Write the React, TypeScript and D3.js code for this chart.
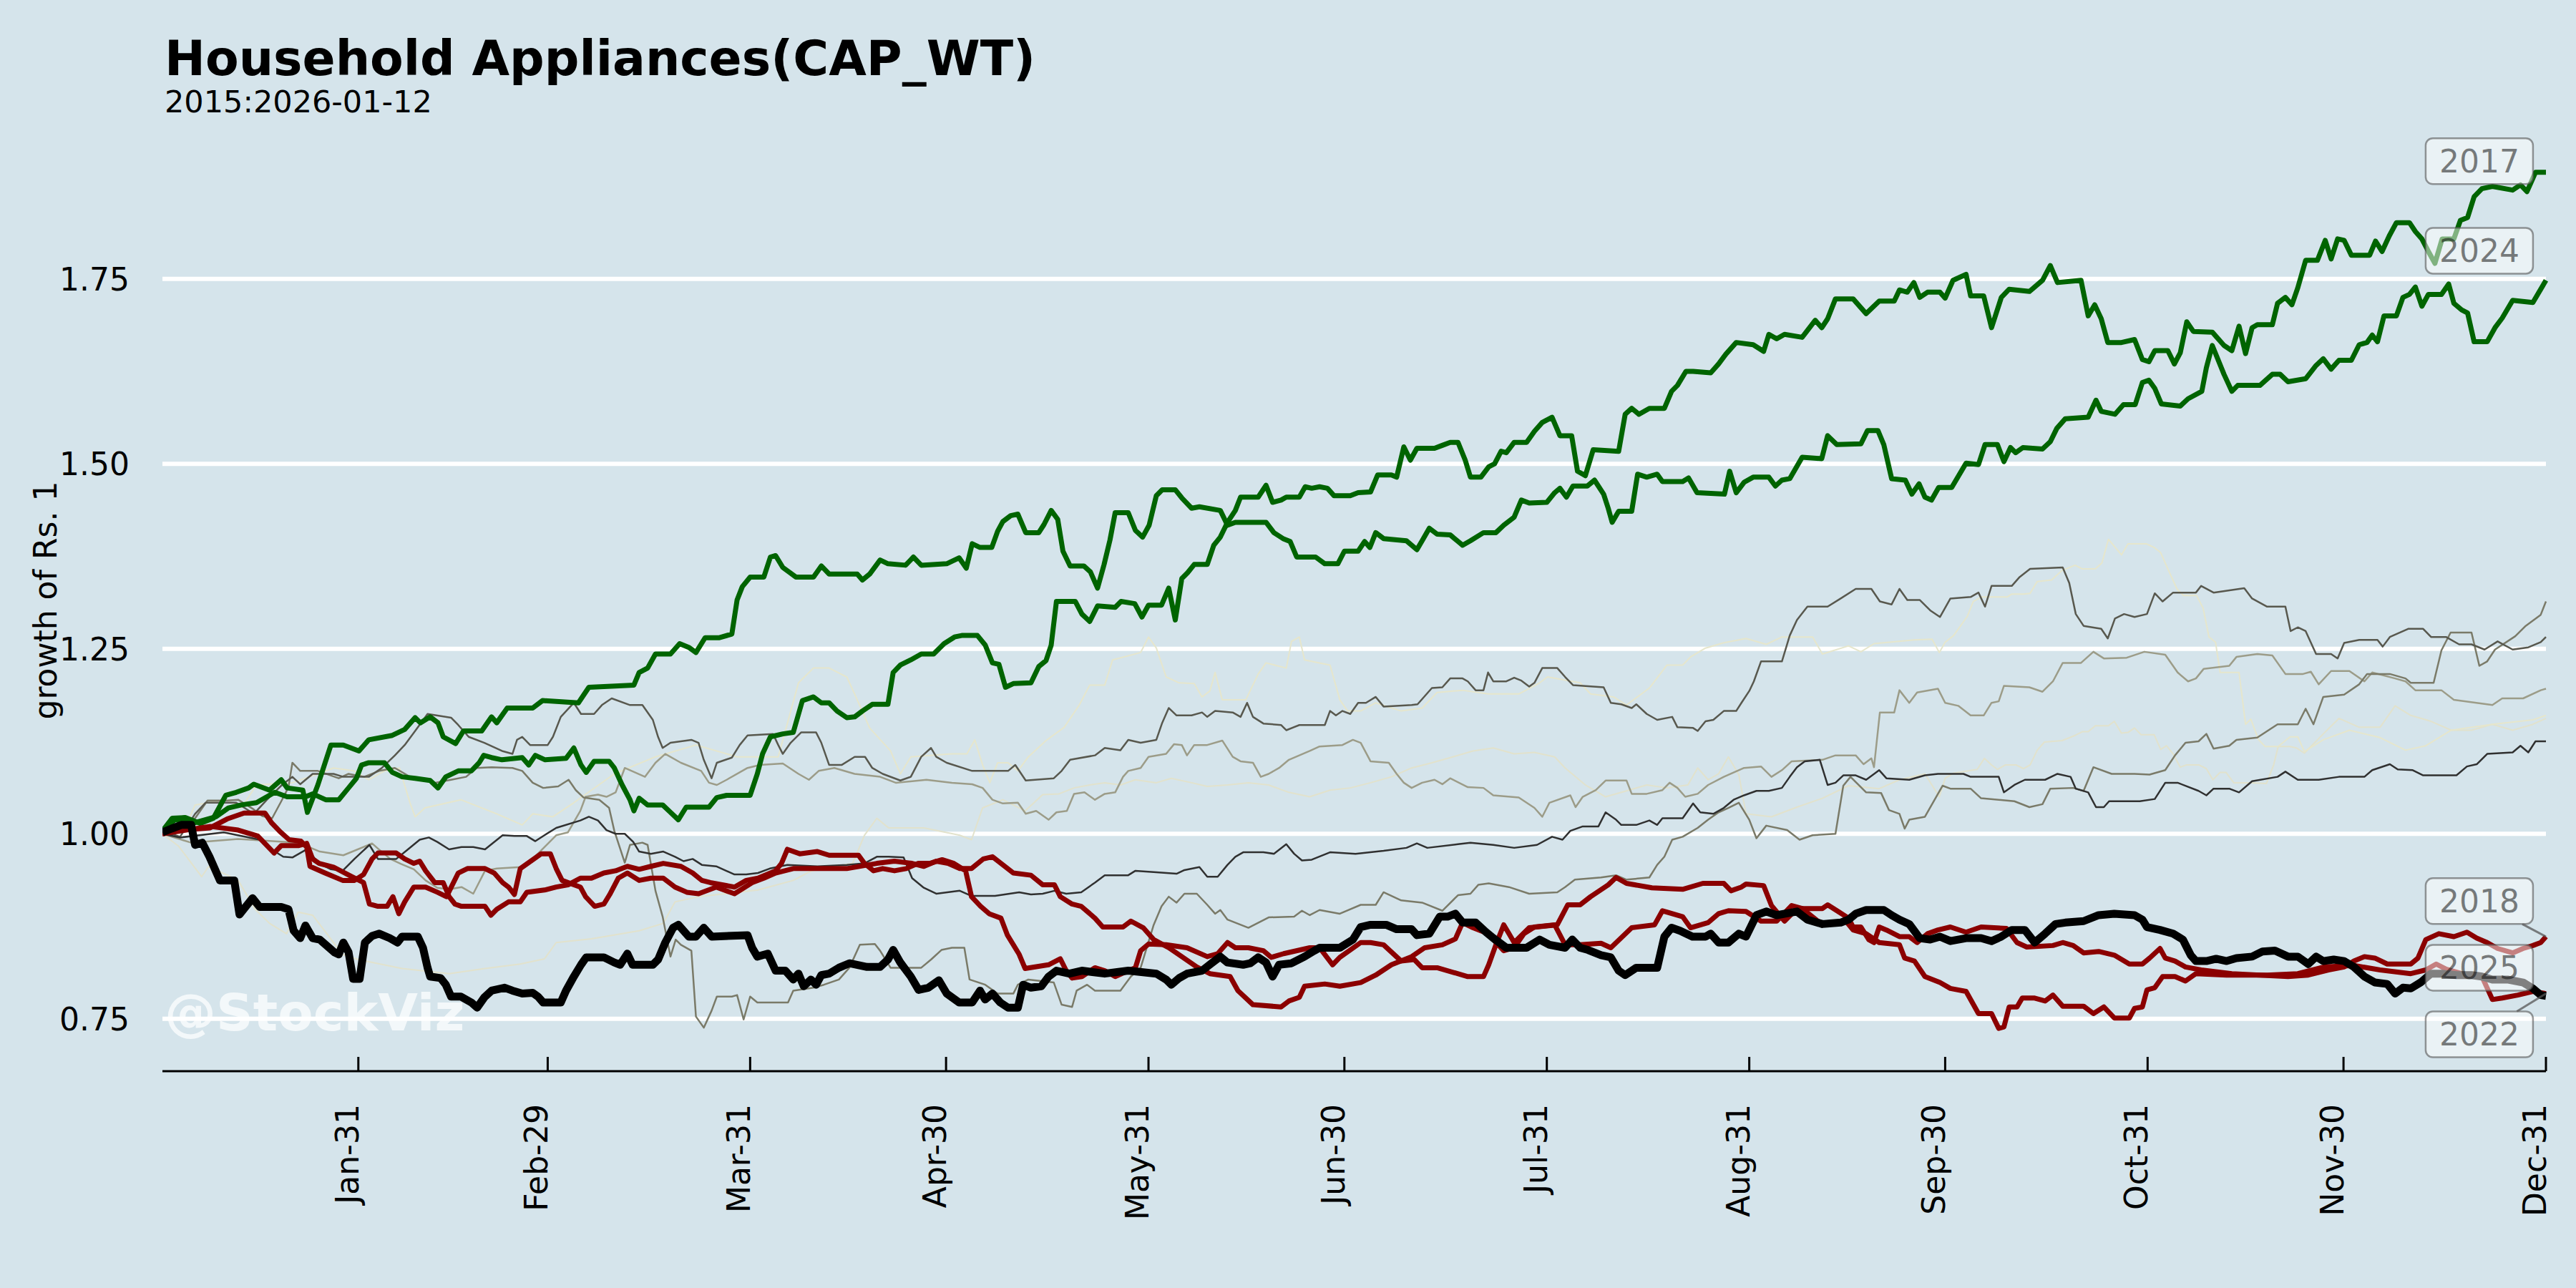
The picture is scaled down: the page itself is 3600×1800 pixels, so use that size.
import React from 'react';
import * as d3 from 'd3';

type Pt = [number, number]; // [day of year (0 = Jan-01), growth of Rs. 1]

const title = 'Household Appliances(CAP_WT)';
const subtitle = '2015:2026-01-12';
const yLabel = 'growth of Rs. 1';
const watermark = '@StockViz';
const yTicks = [0.75, 1.0, 1.25, 1.5, 1.75];
const monthEnds = ['2024-01-31', '2024-02-29', '2024-03-31', '2024-04-30', '2024-05-31', '2024-06-30',
  '2024-07-31', '2024-08-31', '2024-09-30', '2024-10-31', '2024-11-30', '2024-12-31'];

// ---- grey years ----
const s2015: Pt[] = [[0,1.0],[2.5,0.983],[6,0.942],[7.1,0.956],[11.6,0.937],[14.2,0.898],[16.4,0.879],[19,0.865],[20.8,0.894],[23,0.89],[27.6,0.837],[30,0.83],[36.7,0.818],[43.9,0.811],[49.4,0.818],[54.8,0.824],[58.5,0.831],[60.3,0.853],[65.7,0.858],[73,0.869],[76.7,0.879],[78.5,0.908],[82.1,0.915],[91.2,0.924],[96.6,0.937],[99.4,0.950],[105.7,0.960],[107.5,0.998],[109.4,1.021],[111.2,1.008],[116.6,1.008],[122.1,0.998],[123.9,0.992],[125.6,1.035],[128.7,1.046],[132.1,1.031],[134.8,1.053],[137.3,1.054],[139.6,1.062],[142,1.066],[144.3,1.069],[146.7,1.066],[149,1.073],[152.2,1.069],[154.5,1.075],[157.6,1.069],[160,1.064],[163.1,1.066],[166.3,1.069],[169.4,1.066],[172.5,1.056],[175.7,1.050],[178.8,1.059],[181.9,1.062],[185,1.069],[188.2,1.077],[191.3,1.089],[194.4,1.096],[197.6,1.104],[200.7,1.112],[203.8,1.116],[207,1.108],[210.1,1.110],[213.2,1.104],[214.8,1.089],[217.9,1.066],[221,1.050],[224.2,1.058],[227.3,1.066],[230.4,1.062],[233.6,1.066],[235.1,1.089],[236.7,1.073],[238.3,1.081],[239.8,1.104],[241.4,1.08],[242.5,1.027],[246.4,1.023],[250.3,1.036],[254.2,1.048],[258.2,1.065],[262.9,1.061],[266,1.073],[269.9,1.081],[272.1,1.05],[273,1.075],[274.3,1.082],[277.9,1.087],[279,1.102],[280.1,1.093],[281,1.087],[282.2,1.093],[283.9,1.093],[285,1.088],[286,1.093],[287.1,1.113],[288.2,1.124],[290.9,1.126],[292.9,1.133],[294,1.138],[294.9,1.138],[296,1.146],[298,1.146],[298.9,1.152],[300,1.136],[301,1.137],[302,1.143],[303,1.134],[305,1.134],[306,1.114],[306.9,1.119],[307.9,1.108],[309,1.090],[309.9,1.093],[311.9,1.093],[313,1.088],[314,1.073],[315.1,1.083],[316,1.083],[317.2,1.069],[320,1.069],[322.2,1.068],[323.3,1.093],[324,1.118],[325.8,1.118],[326.8,1.116],[328,1.109],[330.9,1.135],[333.3,1.156],[336.4,1.144],[339.6,1.144],[341.9,1.173],[344.3,1.160],[347.4,1.152],[350.5,1.140],[353.6,1.140],[356.8,1.148],[359.9,1.140],[363,1.148],[365,1.156]];

const s2016: Pt[] = [[0,1.004],[3.5,1.008],[5,1.039],[9.7,1.046],[12.1,1.035],[14.4,1.066],[19.9,1.069],[23.8,1.081],[26.2,1.089],[29.3,1.085],[31.6,1.073],[34,1.085],[36.3,1.089],[37.9,1.042],[38.7,1.023],[40.2,1.035],[45.7,1.046],[51.2,1.027],[55.1,1.012],[56.7,1.027],[59.8,1.023],[63,1.042],[69.2,1.081],[75.5,1.104],[81.7,1.120],[88,1.104],[94.3,1.104],[97.4,1.204],[99.7,1.224],[102.1,1.224],[104.8,1.212],[106,1.189],[108.3,1.143],[111.5,1.112],[113,1.081],[114.6,1.104],[120.9,1.108],[123.2,1.108],[124.4,1.127],[125.6,1.093],[126.7,1.069],[127.9,1.096],[129.5,1.096],[131,1.085],[132.6,1.104],[135.3,1.126],[138.1,1.144],[140.4,1.174],[142,1.201],[144.3,1.201],[145.5,1.235],[149.8,1.245],[151,1.266],[152.2,1.251],[153.7,1.212],[155.7,1.204],[158,1.203],[159.2,1.185],[160.4,1.193],[161.2,1.218],[162.3,1.181],[165.9,1.181],[167.8,1.216],[169,1.231],[172.1,1.224],[172.9,1.260],[174.1,1.266],[174.9,1.235],[178.8,1.228],[180.3,1.181],[181.5,1.166],[183.5,1.166],[185.8,1.177],[189.7,1.166],[192.9,1.170],[195.2,1.191],[199.1,1.194],[203,1.189],[207.7,1.189],[210.9,1.204],[212.1,1.212],[217.1,1.204],[218.7,1.189],[222.2,1.185],[224.2,1.174],[227.7,1.197],[230.4,1.228],[232.8,1.228],[234,1.239],[236.3,1.251],[239,1.258],[242.5,1.264],[245.6,1.256],[248,1.266],[252.7,1.266],[254.2,1.243],[258.2,1.254],[260.1,1.246],[262.1,1.257],[268.3,1.262],[271,1.263],[272.1,1.245],[273,1.259],[274.3,1.268],[276.4,1.294],[277.3,1.314],[278.5,1.32],[282.5,1.32],[283.2,1.324],[285,1.324],[286,1.325],[287.1,1.341],[289.3,1.343],[290.9,1.356],[292.9,1.363],[294,1.358],[296,1.358],[297,1.366],[298,1.398],[300,1.377],[301,1.392],[303.8,1.392],[305,1.387],[306,1.380],[307.2,1.356],[308.5,1.331],[309.5,1.322],[311.5,1.322],[312.5,1.305],[313.4,1.266],[314.4,1.259],[315.1,1.218],[318,1.218],[319,1.148],[319.8,1.155],[321,1.127],[322,1.118],[324,1.118],[325.8,1.131],[327,1.131],[328,1.111],[330.9,1.127],[334.9,1.140],[339.6,1.130],[343.5,1.113],[346.6,1.119],[350.5,1.140],[356.8,1.148],[363,1.154],[365,1.160]];

const s2019: Pt[] = [[0,1.0],[0.7,0.998],[4.4,0.988],[11.6,0.993],[20.8,0.988],[24.1,0.976],[27.7,0.971],[32.1,0.987],[33,0.980],[34.9,0.966],[36.6,0.959],[38.5,0.952],[40.3,0.937],[42.1,0.927],[43.9,0.925],[45.8,0.928],[47.6,0.919],[49.4,0.950],[51.2,0.953],[54.8,0.955],[56.7,0.966],[58.5,0.982],[60.3,0.998],[62.1,1.002],[64,1.031],[64.8,1.050],[66.7,1.053],[68,1.050],[69.4,1.056],[70.8,1.089],[73.9,1.077],[75.5,1.096],[77,1.108],[79.4,1.096],[82.5,1.085],[83.7,1.069],[84.9,1.066],[86.4,1.073],[89.6,1.089],[91.5,1.093],[95,1.095],[97.4,1.081],[99,1.073],[100.5,1.085],[102.9,1.089],[106,1.081],[109.9,1.077],[112.3,1.069],[117,1.073],[120.9,1.069],[124,1.067],[125.6,1.062],[127.1,1.046],[128.7,1.041],[131,1.042],[132.2,1.027],[133.8,1.031],[135.7,1.019],[136.9,1.029],[138.5,1.031],[139.6,1.054],[141.2,1.056],[142.8,1.046],[144.3,1.054],[145.9,1.056],[147.1,1.077],[147.9,1.085],[149.8,1.089],[151,1.104],[153.7,1.108],[154.9,1.121],[156.1,1.120],[156.9,1.106],[158,1.120],[160,1.120],[162.3,1.126],[163.9,1.104],[165.1,1.098],[167,1.096],[168.2,1.077],[169.4,1.081],[171,1.089],[172.5,1.100],[175.7,1.112],[177.2,1.118],[180.7,1.120],[182.3,1.127],[183.5,1.123],[185,1.098],[187.8,1.096],[189,1.081],[190.1,1.069],[191.3,1.062],[192.9,1.069],[194.8,1.073],[196,1.067],[197.2,1.075],[199.9,1.063],[202.3,1.062],[203.8,1.052],[207.7,1.049],[210.1,1.035],[211.3,1.023],[212.4,1.042],[215.6,1.052],[216.4,1.036],[217.5,1.050],[219.5,1.059],[221,1.072],[224.2,1.072],[225,1.054],[227.3,1.054],[229.7,1.059],[230.8,1.069],[232,1.062],[233.2,1.050],[235.1,1.054],[236.7,1.066],[239.1,1.077],[242.2,1.089],[244.8,1.091],[246.4,1.077],[248,1.086],[249.5,1.098],[254.2,1.100],[256.2,1.106],[259.3,1.106],[260.5,1.094],[261.7,1.102],[262.1,1.090],[263,1.164],[265.2,1.164],[266,1.194],[267.5,1.177],[268.7,1.191],[271.9,1.196],[273,1.177],[275,1.173],[276.9,1.160],[278.9,1.160],[280.1,1.177],[281.2,1.179],[282,1.200],[285.9,1.198],[287.9,1.192],[289.5,1.206],[291,1.231],[293.8,1.231],[295.7,1.246],[297.3,1.237],[300.8,1.238],[303.5,1.246],[306.7,1.242],[308.6,1.218],[310.2,1.206],[311.4,1.210],[312.6,1.223],[316.5,1.227],[317.6,1.239],[320.8,1.243],[323.1,1.241],[325.1,1.216],[327.8,1.216],[329,1.219],[330.2,1.202],[332.1,1.220],[334.9,1.220],[337.2,1.206],[338.4,1.218],[341.9,1.210],[343.5,1.206],[345,1.194],[349,1.194],[350.9,1.181],[356.8,1.174],[358.3,1.183],[361.5,1.183],[364.2,1.194],[365,1.196]];

const s2020: Pt[] = [[0,1.0],[5,1.021],[6.9,1.045],[9.9,1.045],[11.6,1.046],[13.8,1.034],[15.3,1.024],[16.8,1.021],[18.2,1.044],[19.3,1.063],[19.9,1.096],[21.1,1.085],[23.8,1.085],[27,1.075],[28.5,1.081],[30.9,1.077],[33.2,1.085],[35.6,1.089],[37.9,1.077],[41.8,1.069],[44.2,1.073],[46.5,1.077],[48.1,1.089],[50.4,1.090],[53.6,1.089],[55.1,1.085],[56.7,1.069],[58.3,1.062],[60.6,1.064],[62.2,1.073],[63.3,1.059],[64.5,1.049],[66.9,1.046],[68.4,1.035],[69.2,1.004],[70.8,0.961],[71.6,0.985],[73.5,0.988],[74.3,0.985],[75.5,0.923],[76.6,0.888],[77.8,0.834],[78.6,0.857],[79.4,0.850],[81,0.842],[81.7,0.753],[82.9,0.738],[84.1,0.761],[84.9,0.780],[87.2,0.780],[88,0.782],[89,0.749],[90,0.780],[91.1,0.772],[95.8,0.772],[96.6,0.788],[99.7,0.792],[101.3,0.796],[103.6,0.803],[105.2,0.819],[106.8,0.850],[109.1,0.851],[109.9,0.842],[111.5,0.819],[116.2,0.819],[117.7,0.830],[119.3,0.843],[120.9,0.846],[122.8,0.846],[123.6,0.803],[126,0.796],[127.9,0.784],[130.3,0.784],[131,0.796],[132.6,0.803],[136.5,0.799],[137.7,0.769],[139.3,0.766],[140,0.788],[141.6,0.796],[142.8,0.788],[146.7,0.788],[148.3,0.807],[149.8,0.819],[151.8,0.877],[153,0.902],[154.1,0.915],[155.3,0.907],[156.5,0.919],[158.4,0.919],[160,0.904],[161.2,0.892],[162,0.897],[163.1,0.884],[166.3,0.873],[169.4,0.887],[173.3,0.888],[174.5,0.896],[175.7,0.890],[177.2,0.897],[180.3,0.892],[183.5,0.904],[185.8,0.904],[187,0.921],[189.7,0.910],[192.9,0.907],[196,0.896],[198.4,0.917],[200.3,0.919],[201.5,0.931],[203.1,0.933],[206.2,0.928],[209.3,0.919],[213.6,0.921],[214.8,0.928],[216.3,0.938],[220.3,0.941],[222.6,0.944],[224.2,0.938],[227.7,0.941],[228.9,0.958],[230,0.969],[231.2,0.992],[232.8,0.996],[235.1,1.008],[236.7,1.019],[238.3,1.029],[239.8,1.035],[241.4,1.042],[243,1.019],[244.1,0.994],[245.6,1.011],[248.8,1.005],[250.7,0.992],[252.7,0.998],[256.2,1.0],[257.4,1.065],[258.5,1.077],[260.9,1.056],[263.2,1.055],[264.4,1.032],[266,1.027],[266.8,1.007],[267.5,1.019],[269.9,1.023],[272.6,1.065],[273.8,1.061],[276.9,1.061],[278.5,1.048],[283.6,1.044],[285.9,1.036],[287.9,1.040],[289.1,1.061],[292.6,1.062],[294.2,1.058],[295.7,1.090],[298.5,1.081],[302,1.081],[304.3,1.080],[306.7,1.086],[308.2,1.106],[309.8,1.123],[311.8,1.125],[313,1.135],[314.1,1.115],[316.5,1.119],[317.6,1.127],[320.8,1.130],[323.9,1.148],[327,1.148],[328.2,1.169],[329.4,1.148],[330.9,1.185],[334.1,1.188],[336.4,1.202],[337.6,1.216],[341.1,1.216],[343.5,1.210],[344.3,1.204],[347.8,1.204],[349,1.248],[350.4,1.272],[353.6,1.272],[354.8,1.227],[356,1.233],[357.2,1.249],[360.3,1.267],[361.9,1.281],[364.2,1.296],[365,1.314]];

const s2021: Pt[] = [[0,1.004],[2.7,0.996],[5,1.027],[6.6,1.042],[11.3,1.042],[14,1.027],[16,1.046],[18.3,1.066],[19.9,1.077],[21.1,1.067],[23,1.081],[26.2,1.081],[27.7,1.077],[31.6,1.077],[33.6,1.089],[35.6,1.106],[37.1,1.120],[38.7,1.139],[40.6,1.162],[44.2,1.157],[45.3,1.147],[46.9,1.131],[49.3,1.123],[52,1.112],[53.6,1.108],[54.3,1.127],[55.1,1.131],[56.3,1.120],[59,1.120],[59.8,1.131],[61,1.158],[63,1.177],[64.1,1.162],[66.1,1.162],[67.3,1.174],[68.8,1.183],[71.6,1.174],[73.5,1.174],[75.1,1.154],[75.9,1.131],[76.6,1.116],[77.8,1.123],[81,1.127],[82.1,1.123],[82.9,1.100],[84.1,1.075],[84.9,1.096],[87.2,1.103],[88.4,1.120],[89.6,1.133],[93.5,1.135],[94.3,1.120],[95,1.108],[96.2,1.123],[97.8,1.137],[100.1,1.137],[100.9,1.123],[102.1,1.093],[104,1.093],[106,1.104],[107.6,1.104],[108.7,1.089],[110.3,1.081],[113,1.072],[114.6,1.077],[116.2,1.104],[117.7,1.116],[118.5,1.104],[120.1,1.096],[124,1.085],[129.5,1.085],[130.6,1.093],[132.2,1.072],[136.5,1.075],[137.7,1.085],[139,1.100],[142.8,1.106],[144.3,1.116],[146.7,1.113],[147.9,1.127],[149.8,1.123],[152.2,1.127],[153.1,1.150],[154.1,1.170],[155.3,1.160],[157.6,1.160],[159.2,1.164],[160,1.158],[161.2,1.166],[163.9,1.164],[165.1,1.158],[166.1,1.177],[167,1.158],[168.6,1.149],[171.3,1.147],[172.1,1.140],[174.1,1.147],[178,1.147],[178.8,1.166],[179.7,1.160],[180.7,1.166],[181.9,1.162],[183.1,1.177],[184.3,1.177],[185.8,1.185],[187,1.172],[191.3,1.174],[192.2,1.175],[194.4,1.197],[196,1.198],[197.2,1.210],[199.1,1.210],[199.9,1.206],[201.1,1.194],[202.3,1.194],[203,1.218],[203.8,1.206],[205.8,1.206],[207,1.211],[208.1,1.207],[209.3,1.199],[210.1,1.204],[211.3,1.224],[213.6,1.224],[214.8,1.212],[216,1.201],[219.1,1.199],[220.7,1.198],[221.8,1.177],[223.4,1.175],[225,1.170],[225.7,1.175],[227.3,1.162],[228.9,1.154],[231.2,1.158],[232,1.144],[234.4,1.143],[235.1,1.139],[236.3,1.152],[237.5,1.154],[239.1,1.166],[241,1.166],[241.8,1.177],[243,1.193],[243.7,1.206],[244.8,1.233],[248,1.233],[249.2,1.268],[250.3,1.289],[251.9,1.307],[255,1.307],[257,1.318],[259.3,1.331],[261.7,1.331],[263,1.314],[264.8,1.310],[266,1.331],[267.2,1.316],[269.1,1.316],[270.7,1.302],[272.2,1.293],[273.8,1.318],[276.9,1.320],[278.1,1.326],[279.1,1.307],[280.1,1.335],[283.2,1.335],[284.4,1.347],[286,1.358],[291,1.360],[292,1.339],[293,1.297],[294.2,1.281],[296.9,1.277],[297.9,1.264],[299,1.291],[300.4,1.297],[302,1.293],[303.9,1.297],[305.1,1.325],[306.3,1.314],[307.9,1.326],[311.4,1.326],[312.2,1.335],[314.1,1.326],[318.8,1.332],[320,1.318],[322.3,1.307],[325.1,1.307],[325.9,1.274],[327,1.279],[328.2,1.274],[329.8,1.243],[332.1,1.243],[333.1,1.237],[334.1,1.258],[336.4,1.262],[339.2,1.262],[340,1.253],[341.1,1.266],[343.9,1.277],[346.2,1.277],[347.4,1.266],[349.7,1.266],[351.7,1.256],[353.6,1.256],[355.6,1.249],[357.6,1.260],[359.9,1.249],[362.3,1.252],[364.2,1.259],[365,1.266]];

const s2023: Pt[] = [[0,1.0],[2.7,0.995],[9.4,1.002],[14.9,0.992],[16.7,0.979],[18.5,0.969],[19.9,0.968],[22.1,0.979],[24,0.960],[25.8,0.952],[27.6,0.950],[29.4,0.966],[31.7,0.985],[33,0.966],[35.8,0.966],[37.6,0.979],[39.4,0.992],[40.8,0.995],[42.1,0.989],[43.9,0.979],[45.8,0.982],[47.6,0.982],[49.4,0.979],[52.1,0.998],[53.9,0.997],[55.8,0.997],[57.1,0.990],[58.5,0.998],[60.3,1.008],[64,1.018],[65.3,1.023],[66.7,1.018],[68,1.005],[69.4,1.0],[70.8,1.0],[72.1,0.989],[73,0.976],[74.8,0.973],[76.7,0.976],[78.5,0.969],[79.8,0.963],[81.2,0.966],[82.6,0.958],[84.8,0.956],[87.6,0.945],[89.4,0.945],[91.2,0.947],[93,0.953],[95.7,0.958],[100.3,0.956],[104.8,0.958],[107.5,0.960],[109.4,0.969],[111.2,0.969],[113.5,0.968],[114.8,0.940],[116.6,0.927],[118.5,0.919],[122.1,0.923],[123.9,0.916],[127.5,0.916],[131.2,0.921],[133,0.918],[134.8,0.919],[136.6,0.923],[138.4,0.919],[140.7,0.921],[142.8,0.934],[144.3,0.944],[147.9,0.944],[149,0.950],[152.2,0.948],[155.3,0.946],[156.5,0.951],[158.8,0.955],[160,0.942],[161.6,0.942],[163.1,0.958],[164.3,0.969],[165.5,0.975],[168.6,0.975],[170.2,0.973],[172.1,0.986],[173.3,0.973],[174.5,0.964],[176,0.965],[178.8,0.975],[182.7,0.973],[187,0.977],[190.5,0.981],[192.1,0.987],[193.7,0.981],[198.4,0.986],[200.3,0.988],[203.8,0.985],[207,0.981],[210.5,0.985],[212.8,0.996],[214.4,0.992],[215.6,1.004],[217.5,1.010],[219.9,1.010],[221,1.029],[222.6,1.019],[223.4,1.012],[225.7,1.012],[227.7,1.018],[228.9,1.012],[229.7,1.021],[232.8,1.021],[234.4,1.041],[235.5,1.029],[237.5,1.027],[239.1,1.035],[240.6,1.046],[242.2,1.052],[244.1,1.058],[246,1.058],[248,1.062],[249.2,1.077],[250.3,1.090],[251.5,1.098],[253.8,1.100],[255,1.066],[256.2,1.069],[257.4,1.079],[259.3,1.079],[260.9,1.073],[262.9,1.086],[264,1.075],[267.5,1.073],[269.9,1.079],[271.9,1.081],[275.8,1.081],[276.9,1.077],[281.2,1.077],[282,1.056],[283.6,1.066],[285.2,1.073],[288.3,1.073],[290.2,1.081],[292.2,1.077],[293,1.061],[294.9,1.056],[296.1,1.036],[297.3,1.036],[298.1,1.044],[302.8,1.044],[305.1,1.047],[306.7,1.069],[308.6,1.069],[311.8,1.058],[313,1.052],[314.1,1.061],[316.5,1.061],[318,1.056],[320,1.071],[323.9,1.077],[325.1,1.084],[327,1.073],[330.2,1.073],[333.3,1.077],[337.2,1.077],[338.4,1.086],[341.1,1.094],[342.3,1.087],[344.6,1.086],[346.2,1.079],[351.3,1.079],[352.9,1.091],[354.4,1.094],[356,1.108],[359.9,1.110],[361.1,1.119],[362.3,1.110],[363.4,1.125],[365,1.125]];

// ---- highlighted years ----
const s2017: Pt[] = [[0,1.004],[1.9,1.019],[5,1.015],[8.2,1.023],[10.1,1.035],[12.1,1.039],[14.4,1.042],[17.2,1.056],[19.1,1.050],[21.9,1.050],[23,1.054],[25,1.046],[27,1.046],[28.5,1.062],[29.7,1.075],[30.5,1.093],[31.6,1.096],[34,1.096],[35.2,1.083],[36.7,1.077],[38.7,1.075],[41,1.072],[42.2,1.062],[43.4,1.077],[45.3,1.085],[47.3,1.085],[48.5,1.096],[49.2,1.106],[50.4,1.103],[52,1.100],[55.1,1.103],[56.1,1.093],[57.1,1.106],[58.6,1.100],[61.8,1.102],[63,1.116],[64.1,1.093],[64.9,1.083],[66.1,1.098],[68.4,1.098],[69.2,1.089],[70.4,1.066],[71.6,1.046],[72.2,1.031],[73,1.048],[74.3,1.039],[76.6,1.039],[77.8,1.029],[79,1.019],[80.2,1.036],[83.7,1.036],[84.9,1.049],[86.4,1.052],[90,1.052],[91.1,1.081],[91.9,1.108],[93.1,1.131],[95,1.135],[96.6,1.137],[98,1.180],[99.7,1.185],[100.9,1.177],[102.1,1.177],[103.3,1.166],[104.8,1.157],[106,1.158],[107.2,1.166],[108.7,1.175],[111.1,1.175],[111.9,1.218],[113,1.228],[114.6,1.235],[116.2,1.243],[118.1,1.243],[119.7,1.257],[121.3,1.266],[122.4,1.268],[124.8,1.268],[126,1.255],[127.1,1.231],[128.1,1.229],[129.1,1.198],[130.3,1.203],[133,1.204],[134.2,1.226],[135.3,1.234],[136.1,1.255],[136.9,1.314],[139.8,1.314],[140.8,1.297],[142,1.287],[143.2,1.308],[145.9,1.306],[146.8,1.314],[148.9,1.311],[150,1.293],[151,1.309],[153,1.309],[154.1,1.332],[155.1,1.289],[156.1,1.345],[157,1.353],[158,1.364],[160,1.364],[161,1.390],[162,1.401],[163.1,1.421],[164.3,1.437],[165.1,1.455],[167.8,1.455],[169,1.471],[170,1.448],[171.3,1.451],[172.1,1.455],[174.1,1.455],[175,1.469],[176,1.467],[177.2,1.469],[178.4,1.467],[179.4,1.457],[181.9,1.457],[183.1,1.461],[185,1.462],[186.1,1.485],[188.2,1.485],[189,1.482],[190.1,1.523],[191.1,1.505],[192.1,1.521],[194.8,1.521],[196,1.525],[197.2,1.529],[198.4,1.529],[199.5,1.505],[200.3,1.482],[201.9,1.482],[203.1,1.496],[204,1.500],[205,1.517],[205.8,1.515],[207,1.529],[208.9,1.529],[210.1,1.544],[211.3,1.556],[212.8,1.563],[214,1.538],[215.8,1.538],[216.7,1.490],[217.9,1.484],[219.1,1.519],[223,1.517],[224,1.567],[225,1.575],[226.1,1.567],[227.7,1.575],[230,1.575],[231.1,1.598],[232,1.606],[233.3,1.625],[234.4,1.625],[237.1,1.623],[238.3,1.635],[239.4,1.648],[241,1.664],[243.6,1.661],[245.2,1.652],[246,1.675],[247.2,1.669],[248.4,1.675],[251.1,1.671],[253.1,1.694],[254.1,1.684],[255,1.696],[256.2,1.723],[258.9,1.723],[260.9,1.703],[262.9,1.720],[265.2,1.720],[266,1.735],[267.2,1.732],[268.2,1.745],[269.1,1.725],[270.3,1.732],[272.2,1.732],[273,1.724],[274.2,1.748],[276.2,1.756],[276.9,1.727],[278.9,1.727],[280.1,1.684],[281.6,1.725],[282.8,1.736],[285.9,1.733],[287.9,1.748],[289.1,1.768],[290.2,1.745],[293.8,1.748],[294.9,1.700],[295.9,1.715],[296.9,1.696],[297.9,1.664],[300,1.664],[302,1.668],[303.2,1.641],[304.2,1.638],[305.1,1.653],[307.1,1.653],[308.1,1.635],[309,1.650],[310,1.692],[311,1.679],[313.9,1.678],[315.7,1.660],[316.9,1.653],[318,1.686],[319,1.649],[320,1.684],[320.8,1.688],[323.1,1.688],[323.9,1.717],[325.1,1.725],[326.1,1.715],[327,1.738],[328.2,1.775],[330,1.775],[331.2,1.802],[332.1,1.777],[333.1,1.804],[334.1,1.802],[335.2,1.782],[338,1.782],[338.9,1.801],[339.9,1.787],[341,1.808],[342.1,1.826],[344.1,1.826],[345,1.814],[346,1.804],[347,1.787],[348,1.771],[349.1,1.804],[350.9,1.804],[351.9,1.829],[353,1.833],[354,1.861],[355.2,1.872],[356.8,1.875],[359.9,1.870],[361.1,1.877],[362.1,1.868],[363.4,1.894],[365,1.894]];

const s2024: Pt[] = [[0,1.004],[1.5,1.021],[3.5,1.022],[5.8,1.014],[7.8,1.021],[9.7,1.052],[11.3,1.056],[13.2,1.062],[14,1.067],[16.4,1.059],[18.2,1.073],[19.1,1.062],[21.5,1.059],[22.2,1.029],[23.8,1.066],[25.8,1.120],[27.7,1.120],[30.1,1.112],[31.6,1.127],[35.2,1.133],[37.1,1.141],[38.7,1.157],[39.5,1.150],[41,1.158],[42.2,1.150],[43,1.131],[44.9,1.122],[46.1,1.139],[48.9,1.139],[50.4,1.158],[51.2,1.150],[52.8,1.170],[56.7,1.170],[58.2,1.180],[63.7,1.177],[65.3,1.198],[72.2,1.201],[73,1.218],[74.3,1.224],[75.5,1.243],[77.8,1.243],[79.2,1.257],[80.6,1.252],[81.7,1.245],[83.1,1.265],[85.3,1.265],[87.2,1.270],[88,1.316],[88.8,1.334],[90,1.347],[92.1,1.347],[93.1,1.374],[93.9,1.376],[95,1.360],[97,1.347],[99.7,1.347],[100.9,1.362],[102.1,1.351],[106.4,1.351],[107.2,1.343],[108.3,1.351],[109.9,1.370],[111.1,1.365],[113.8,1.363],[115,1.374],[116.2,1.363],[120.1,1.365],[122,1.373],[123.1,1.359],[124,1.392],[125.2,1.387],[127,1.387],[127.9,1.409],[128.7,1.422],[129.9,1.430],[131,1.432],[132.2,1.407],[134.2,1.407],[135,1.418],[136.1,1.437],[137.1,1.425],[137.9,1.382],[139,1.362],[141.1,1.362],[142.1,1.354],[143.2,1.332],[144.2,1.364],[145.1,1.397],[145.9,1.434],[147.9,1.434],[149,1.410],[150.1,1.401],[151.1,1.417],[152.2,1.457],[153.1,1.465],[155.1,1.465],[156.1,1.454],[157.6,1.440],[158.8,1.442],[162,1.437],[163.1,1.417],[164.3,1.421],[169,1.421],[170.2,1.407],[171.6,1.399],[172.7,1.395],[173.7,1.374],[176.6,1.374],[178,1.365],[180,1.365],[181,1.382],[183.1,1.382],[184.1,1.395],[184.9,1.387],[185.8,1.407],[187,1.399],[190.5,1.396],[192.1,1.384],[192.9,1.396],[194,1.413],[195.2,1.405],[197.2,1.404],[199.1,1.390],[200.3,1.396],[202.3,1.407],[204.2,1.407],[205.4,1.417],[207,1.428],[208.1,1.451],[209.3,1.447],[212,1.448],[213.2,1.461],[214,1.467],[215,1.455],[216,1.470],[218.2,1.470],[219.3,1.478],[220.7,1.459],[221.4,1.440],[222,1.421],[223,1.436],[225,1.436],[225.9,1.486],[227.3,1.482],[228.9,1.486],[229.7,1.476],[232.8,1.476],[233.7,1.481],[235,1.461],[239.2,1.459],[240,1.490],[241,1.461],[242.2,1.475],[243.6,1.482],[246,1.482],[247,1.470],[248,1.478],[249.2,1.480],[251.1,1.509],[254.1,1.507],[255,1.538],[256.4,1.526],[260.1,1.527],[261.1,1.545],[262.7,1.545],[263.6,1.526],[264.8,1.480],[266.9,1.478],[267.9,1.459],[269,1.473],[269.9,1.455],[270.9,1.451],[272,1.468],[274,1.468],[276.2,1.501],[278.1,1.499],[279.1,1.526],[281,1.526],[282,1.503],[283,1.522],[283.8,1.515],[284.9,1.522],[287.9,1.520],[289.1,1.530],[290.1,1.548],[291.4,1.561],[294.9,1.563],[296.1,1.586],[296.9,1.571],[299,1.567],[300.3,1.580],[302.1,1.580],[303.2,1.610],[304.2,1.613],[305.1,1.602],[306.1,1.581],[309,1.578],[310.2,1.588],[312.3,1.598],[313,1.630],[313.9,1.660],[315.7,1.621],[316.9,1.598],[317.8,1.606],[321.2,1.606],[323.1,1.621],[324.3,1.621],[325.5,1.611],[328.2,1.615],[329.8,1.633],[330.9,1.642],[332.1,1.628],[333.3,1.640],[335.2,1.640],[336.4,1.661],[337.6,1.664],[338.4,1.674],[339.2,1.665],[340.2,1.700],[342.1,1.700],[343.1,1.725],[344.1,1.729],[345,1.739],[346,1.713],[347,1.729],[349,1.729],[350.1,1.743],[350.9,1.717],[352.1,1.708],[353,1.704],[354,1.665],[356,1.665],[357.2,1.684],[358.3,1.697],[359.9,1.721],[363,1.718],[365,1.748]];

const s2018: Pt[] = [[0,1.0],[3,1.005],[7.3,1.008],[9.9,1.02],[12.5,1.028],[15.7,1.028],[16.7,1.015],[18,1.003],[19.4,0.992],[21.2,0.990],[22.1,0.982],[22.6,0.956],[24.9,0.947],[27.6,0.937],[29.4,0.937],[30.8,0.945],[32.1,0.966],[33,0.974],[35.8,0.974],[37.1,0.966],[38.5,0.960],[39.4,0.963],[40.3,0.950],[41.7,0.934],[43,0.934],[43.9,0.915],[44.8,0.905],[45.8,0.902],[49.4,0.902],[50.3,0.890],[51.2,0.898],[53,0.908],[54.8,0.908],[55.8,0.921],[58.5,0.924],[60.3,0.928],[62.1,0.931],[64,0.940],[65.7,0.940],[67.6,0.947],[69.4,0.950],[71.2,0.956],[73,0.952],[74.8,0.956],[76.7,0.960],[79.4,0.956],[81.2,0.947],[82.6,0.937],[83.9,0.934],[87.6,0.928],[89.4,0.937],[91.2,0.940],[93.9,0.950],[94.8,0.960],[95.7,0.979],[97.6,0.973],[100.3,0.976],[102.1,0.971],[106.6,0.971],[107.5,0.960],[108.9,0.950],[110.3,0.953],[112.1,0.950],[113.9,0.953],[115.7,0.960],[117.5,0.960],[119.4,0.965],[121.2,0.960],[123,0.950],[123.9,0.915],[125.3,0.902],[126.6,0.892],[128.4,0.886],[129.4,0.863],[131.2,0.837],[132.1,0.818],[135.7,0.823],[137.5,0.831],[138.4,0.815],[139.3,0.805],[140.8,0.807],[142.8,0.819],[144.3,0.815],[145.9,0.807],[147.9,0.815],[149,0.819],[149.8,0.842],[151,0.851],[153.7,0.850],[156.9,0.846],[160,0.834],[161.6,0.838],[163.1,0.853],[164.3,0.846],[166.3,0.846],[168.6,0.842],[169.8,0.833],[171.7,0.838],[175.7,0.846],[177.2,0.846],[179.2,0.823],[180.3,0.833],[183.5,0.853],[185,0.853],[187,0.850],[189.7,0.828],[191.7,0.830],[192.9,0.819],[195.2,0.819],[199.9,0.807],[202.3,0.807],[203.1,0.823],[204.2,0.850],[205.4,0.877],[206.2,0.865],[207,0.853],[209.3,0.873],[213.6,0.877],[215.2,0.904],[217.1,0.904],[218.7,0.915],[221.4,0.931],[222.6,0.941],[224.2,0.933],[228.1,0.927],[232.8,0.925],[235.9,0.933],[239.1,0.933],[240.2,0.923],[241.8,0.928],[242.5,0.932],[245.2,0.930],[246.4,0.903],[248.4,0.882],[250.3,0.899],[254.2,0.899],[255,0.904],[256.6,0.895],[258.2,0.886],[258.9,0.874],[260.1,0.874],[261.3,0.857],[262.1,0.853],[262.9,0.874],[264,0.870],[266,0.861],[267.5,0.861],[268.7,0.853],[270.3,0.865],[271.9,0.870],[273.8,0.874],[276.2,0.867],[278.5,0.874],[282.4,0.872],[284,0.853],[285.5,0.847],[289.5,0.849],[291,0.853],[292.6,0.849],[294.2,0.839],[296.5,0.841],[298.9,0.836],[301.2,0.824],[303.2,0.824],[304.3,0.832],[305.9,0.845],[306.7,0.832],[308.2,0.828],[309.8,0.820],[312.2,0.816],[316.9,0.811],[325.5,0.807],[328.6,0.809],[331.7,0.816],[334.1,0.820],[335.6,0.828],[337.2,0.834],[338.8,0.832],[340.7,0.824],[344.3,0.824],[345.4,0.832],[346.6,0.857],[348.6,0.865],[350.9,0.861],[352.9,0.867],[354.4,0.859],[356,0.853],[357.6,0.845],[359.9,0.839],[361.5,0.845],[363,0.849],[364.2,0.853],[365,0.861]];

const s2022: Pt[] = [[0,1.0],[7.3,1.01],[11.6,1.005],[14.6,0.997],[17.1,0.974],[18.2,0.984],[20.8,0.984],[22.1,0.987],[23,0.966],[24,0.960],[26.2,0.955],[29,0.942],[30.8,0.934],[31.7,0.905],[33,0.902],[34.4,0.902],[35.3,0.915],[36.2,0.892],[37.1,0.908],[38.5,0.928],[40.3,0.928],[42.1,0.921],[43.5,0.915],[45.3,0.947],[46.7,0.953],[49.4,0.953],[50.8,0.947],[52.1,0.934],[53,0.928],[53.9,0.918],[54.8,0.953],[58,0.973],[59.4,0.973],[60.3,0.953],[61.2,0.937],[64,0.928],[64.8,0.915],[66.2,0.902],[67.6,0.905],[68.5,0.918],[69.8,0.940],[71.2,0.947],[73,0.937],[74.8,0.940],[76.7,0.940],[78.5,0.928],[80.3,0.921],[82.1,0.919],[84.8,0.928],[87.6,0.919],[90.3,0.934],[92.1,0.940],[93.9,0.947],[96.6,0.953],[104.8,0.953],[109.4,0.960],[112.1,0.963],[114.8,0.960],[116.6,0.956],[118.5,0.963],[120.3,0.960],[122.1,0.953],[123.9,0.953],[125.7,0.966],[127.1,0.969],[128.4,0.960],[130.3,0.947],[133,0.944],[134.8,0.931],[136.6,0.931],[137.5,0.915],[139.3,0.905],[140.7,0.902],[142.8,0.886],[144,0.874],[147.1,0.874],[148.3,0.882],[150.2,0.873],[151.8,0.857],[154.1,0.846],[156.1,0.834],[158.4,0.820],[160.4,0.811],[163.5,0.807],[164.7,0.788],[167,0.769],[171.3,0.766],[172.5,0.774],[174.1,0.779],[174.9,0.794],[178,0.797],[180.3,0.794],[183.5,0.799],[185.8,0.809],[188.2,0.823],[191.3,0.834],[193.3,0.846],[196,0.850],[198,0.858],[199.1,0.880],[200.7,0.873],[203,0.865],[205.4,0.842],[207,0.846],[208.5,0.865],[210.1,0.874],[213.2,0.877],[214.8,0.850],[217.1,0.850],[220.3,0.852],[221.8,0.846],[225,0.873],[228.5,0.877],[229.7,0.896],[232.8,0.888],[234,0.873],[236.7,0.880],[238.3,0.892],[239.8,0.896],[242.5,0.895],[244.8,0.882],[247.2,0.882],[249.5,0.903],[251.1,0.899],[253.5,0.882],[254.6,0.878],[257.8,0.882],[258.9,0.870],[260.9,0.865],[262.9,0.853],[266,0.850],[266.8,0.832],[268.3,0.828],[269.9,0.807],[272.2,0.799],[273.8,0.791],[276.2,0.787],[278.1,0.757],[280.1,0.757],[281.2,0.737],[282,0.739],[282.8,0.766],[284,0.766],[284.8,0.778],[286.7,0.778],[288.3,0.774],[289.5,0.782],[291,0.767],[294.2,0.767],[295.7,0.757],[297.3,0.766],[298.9,0.751],[301.2,0.751],[302,0.764],[303.2,0.766],[303.9,0.789],[305.1,0.792],[306.3,0.807],[308.2,0.807],[309.8,0.801],[311.4,0.811],[316.1,0.809],[322.3,0.809],[327,0.811],[331,0.820],[335.6,0.822],[339.6,0.816],[344.3,0.811],[346.6,0.816],[348.2,0.824],[349.7,0.817],[352.1,0.811],[355.2,0.807],[356.8,0.776],[358.3,0.778],[360.7,0.782],[363,0.787],[365,0.784]];

const s2025: Pt[] = [[0,1.002],[1.4,1.007],[2.9,1.012],[4.4,1.012],[5,0.985],[6.1,0.988],[7.2,0.969],[8.8,0.937],[11,0.937],[11.8,0.891],[13.8,0.913],[14.9,0.901],[18.2,0.901],[19.3,0.898],[20.1,0.869],[21.1,0.859],[21.9,0.876],[23,0.859],[24.1,0.857],[26.3,0.840],[27,0.837],[27.7,0.853],[28.5,0.840],[29.2,0.804],[30.2,0.804],[31,0.853],[32.1,0.862],[33.2,0.865],[34.8,0.859],[36,0.853],[36.7,0.861],[39.1,0.861],[39.9,0.846],[40.6,0.819],[41,0.807],[42.6,0.805],[43.4,0.796],[44.2,0.780],[45.7,0.780],[47.3,0.772],[48.2,0.765],[49.3,0.779],[50.4,0.788],[52.4,0.792],[53.6,0.788],[55.1,0.784],[56.7,0.785],[57.5,0.780],[58.3,0.772],[61,0.772],[61.8,0.788],[63,0.807],[64.1,0.823],[64.9,0.833],[67.6,0.833],[69.2,0.826],[70.1,0.823],[71.2,0.838],[72,0.823],[75.1,0.823],[75.9,0.830],[77,0.853],[78.2,0.873],[79,0.877],[80.6,0.861],[81.7,0.861],[82.9,0.873],[84.1,0.861],[89.6,0.863],[90.3,0.846],[91.1,0.834],[92.7,0.838],[93.9,0.815],[95.4,0.815],[96.6,0.803],[97.4,0.811],[98.2,0.794],[99.3,0.803],[100.1,0.796],[100.9,0.809],[102.1,0.811],[103.6,0.819],[105.2,0.825],[107.9,0.820],[109.9,0.820],[111.1,0.830],[111.9,0.843],[113,0.826],[114.6,0.807],[115.8,0.789],[117.3,0.792],[118.9,0.802],[120.1,0.784],[122,0.772],[124,0.772],[125.2,0.788],[126,0.776],[127.1,0.784],[128.3,0.772],[129.5,0.765],[131,0.765],[131.8,0.796],[133,0.792],[134.6,0.794],[135.7,0.807],[136.9,0.815],[138.9,0.811],[140.8,0.815],[144.3,0.811],[147.9,0.815],[152.2,0.811],[153.7,0.803],[154.5,0.796],[155.7,0.805],[156.9,0.811],[159.2,0.815],[160.8,0.826],[162,0.834],[163.1,0.826],[165.5,0.823],[166.6,0.825],[167.8,0.833],[169,0.826],[170,0.807],[171,0.823],[172.9,0.825],[174.9,0.834],[176.4,0.842],[177.2,0.846],[180.3,0.846],[182.3,0.857],[183.5,0.874],[185,0.877],[187.4,0.877],[189,0.871],[191.3,0.871],[192.1,0.863],[194,0.865],[195.6,0.888],[196.8,0.888],[198,0.892],[199.1,0.880],[201.1,0.880],[202.7,0.867],[203.8,0.859],[205.8,0.846],[208.9,0.846],[210.9,0.857],[212.4,0.850],[214.8,0.846],[215.9,0.857],[217.1,0.846],[218.3,0.843],[220.3,0.836],[221.8,0.833],[223,0.815],[224,0.809],[225.7,0.819],[228.9,0.819],[230,0.861],[231.1,0.873],[232.4,0.869],[234.3,0.861],[236.3,0.861],[237.1,0.865],[238.3,0.853],[239.8,0.853],[241.4,0.865],[242.5,0.861],[244.1,0.890],[245.6,0.895],[247.2,0.890],[250.3,0.895],[251.9,0.884],[254.2,0.878],[257,0.880],[258.2,0.884],[259.3,0.892],[260.9,0.897],[263.6,0.897],[264.8,0.890],[266,0.884],[267.5,0.878],[269.1,0.859],[270.7,0.857],[272.2,0.861],[273.8,0.855],[276.2,0.859],[278.5,0.859],[280.1,0.855],[281.6,0.861],[283.2,0.870],[285.2,0.870],[286.7,0.853],[288.3,0.865],[289.9,0.878],[291.4,0.880],[294.2,0.882],[296.5,0.890],[298.9,0.892],[302,0.890],[303.2,0.884],[303.9,0.874],[305.9,0.870],[307.9,0.865],[309.4,0.857],[310.6,0.836],[311.4,0.828],[313,0.828],[314.5,0.831],[316.1,0.828],[317.6,0.832],[320,0.834],[321.6,0.841],[323.5,0.842],[325.5,0.834],[327,0.834],[328.6,0.824],[329.8,0.834],[330.9,0.828],[332.5,0.830],[334.1,0.828],[335.6,0.820],[337.2,0.807],[338.8,0.799],[340.7,0.797],[341.9,0.784],[343.1,0.792],[344.3,0.791],[345.8,0.799],[347.4,0.811],[349,0.811],[351.3,0.809],[353.6,0.809],[355.2,0.807],[356.8,0.803],[359.1,0.803],[361.5,0.799],[363,0.791],[364.2,0.782],[365,0.781]];

// order of drawing: faint greys first, highlighted last
const years = ['2015', '2016', '2019', '2020', '2021', '2023', '2017', '2024', '2018', '2022', '2025'];
const seriesData: Pt[][] = [s2015, s2016, s2019, s2020, s2021, s2023, s2017, s2024, s2018, s2022, s2025];
const seriesColors = ['#e2e2cc', '#e6e6cc', '#9c9c88', '#7a7a68', '#58584e', '#303030', '#006400', '#006400', '#8b0000', '#8b0000', '#000000'];
const seriesWidths = [2, 2, 2.5, 2.5, 2.5, 2.5, 7, 7, 7, 7, 11];

// repelled label anchors (year, value at which the label box sits)
const labelYears = ['2017', '2024', '2018', '2025', '2022'];
const labelValues = [1.909, 1.788, 0.909, 0.819, 0.729];
const labelDay = 354.8;

const W = 3600, H = 1800;
const left = 227, right = 3558, top = 181, bottom = 1497;
const FONT = 'DejaVu Sans, Liberation Sans, sans-serif';

const base = Date.UTC(2024, 0, 1);
const toDate = (d: number) => new Date(base + d * 86400000);

export default function App() {
  const x = d3.scaleUtc().domain([toDate(0), toDate(365)]).range([left, right]);
  const allVals = seriesData.flatMap(s => s.map(p => p[1]));
  const [mn, mx] = d3.extent(allVals) as [number, number];
  const pad = (mx - mn) * 0.05;
  const y = d3.scaleLinear().domain([mn - pad, mx + pad]).range([bottom, top]);
  const line = d3.line<Pt>().x(p => x(toDate(p[0]))).y(p => y(p[1]));
  const fmtX = d3.utcFormat('%b-%d');
  const fmtY = d3.format('.2f');
  const ticks = monthEnds.map(s => new Date(s + 'T00:00:00Z'));

  const boxW = 150, boxH = 64;
  const labels = labelYears.map((yr, i) => {
    const idx = years.indexOf(yr);
    const data = seriesData[idx];
    const last = data[data.length - 1];
    const cx = x(toDate(labelDay));
    const cy = y(labelValues[i]);
    const ex = x(toDate(last[0]));
    const ey = y(last[1]);
    let conn: null | [number, number, number, number] = null;
    const dy = ey - cy;
    if (Math.abs(dy) > boxH / 2 + 12) {
      const t = (boxH / 2) / Math.abs(dy);
      conn = [cx + (ex - cx) * t, cy + dy * t, ex, ey];
    }
    return { yr, cx, cy, conn };
  });

  return (
    <svg width={W} height={H} viewBox={`0 0 ${W} ${H}`}
      style={{ position: 'absolute', left: 0, top: 0, display: 'block' }}
      xmlns="http://www.w3.org/2000/svg">
      <defs>
        <clipPath id="plot">
          <rect x={left} y={top - 10} width={right - left + 6} height={bottom - top + 10} />
        </clipPath>
      </defs>
      <rect x={0} y={0} width={W} height={H} fill="#d5e4eb" />

      {yTicks.map(v => (
        <line key={'g' + v} x1={left} x2={right} y1={y(v)} y2={y(v)} stroke="#ffffff" strokeWidth={6} />
      ))}

      <g clipPath="url(#plot)">
        {seriesData.map((s, i) => (
          <path key={years[i]} d={line(s) || ''} fill="none" stroke={seriesColors[i]}
            strokeWidth={seriesWidths[i]} strokeLinejoin="round" strokeLinecap="butt" />
        ))}
      </g>

      <line x1={left} x2={right} y1={bottom} y2={bottom} stroke="#000" strokeWidth={3} />
      {ticks.map(t => (
        <g key={t.toISOString()}>
          <line x1={x(t)} x2={x(t)} y1={bottom} y2={bottom - 20} stroke="#000" strokeWidth={3} />
          <text transform={`translate(${x(t)},${bottom + 46}) rotate(-90)`} textAnchor="end"
            fontFamily={FONT} fontSize={44} fill="#000">{fmtX(t)}</text>
        </g>
      ))}

      {yTicks.map(v => (
        <text key={'yl' + v} x={181} y={y(v)} dy="0.36em" textAnchor="end"
          fontFamily={FONT} fontSize={44} fill="#000">{fmtY(v)}</text>
      ))}

      <text transform={`translate(79,${(top + bottom) / 2}) rotate(-90)`} textAnchor="middle"
        fontFamily={FONT} fontSize={44} fill="#000">{yLabel}</text>

      <text x={230} y={1440} fontFamily={FONT} fontWeight="bold" fontSize={72}
        fill="#ffffff" fillOpacity={0.72}>{watermark}</text>

      {labels.map(l => (
        <g key={'lab' + l.yr}>
          {l.conn && (
            <line x1={l.conn[0]} y1={l.conn[1]} x2={l.conn[2]} y2={l.conn[3]}
              stroke="#555" strokeOpacity={0.75} strokeWidth={3} />
          )}
          <rect x={l.cx - boxW / 2} y={l.cy - boxH / 2} width={boxW} height={boxH} rx={10} ry={10}
            fill="#ffffff" fillOpacity={0.5} stroke="#555" strokeOpacity={0.6} strokeWidth={2.5} />
          <text x={l.cx} y={l.cy} dy="0.36em" textAnchor="middle" fontFamily={FONT} fontSize={44}
            fill="#000" fillOpacity={0.5}>{l.yr}</text>
        </g>
      ))}

      <text x={230} y={105} fontFamily={FONT} fontWeight="bold" fontSize={68} fill="#000">{title}</text>
      <text x={230} y={157} fontFamily={FONT} fontSize={43} fill="#000">{subtitle}</text>
    </svg>
  );
}
